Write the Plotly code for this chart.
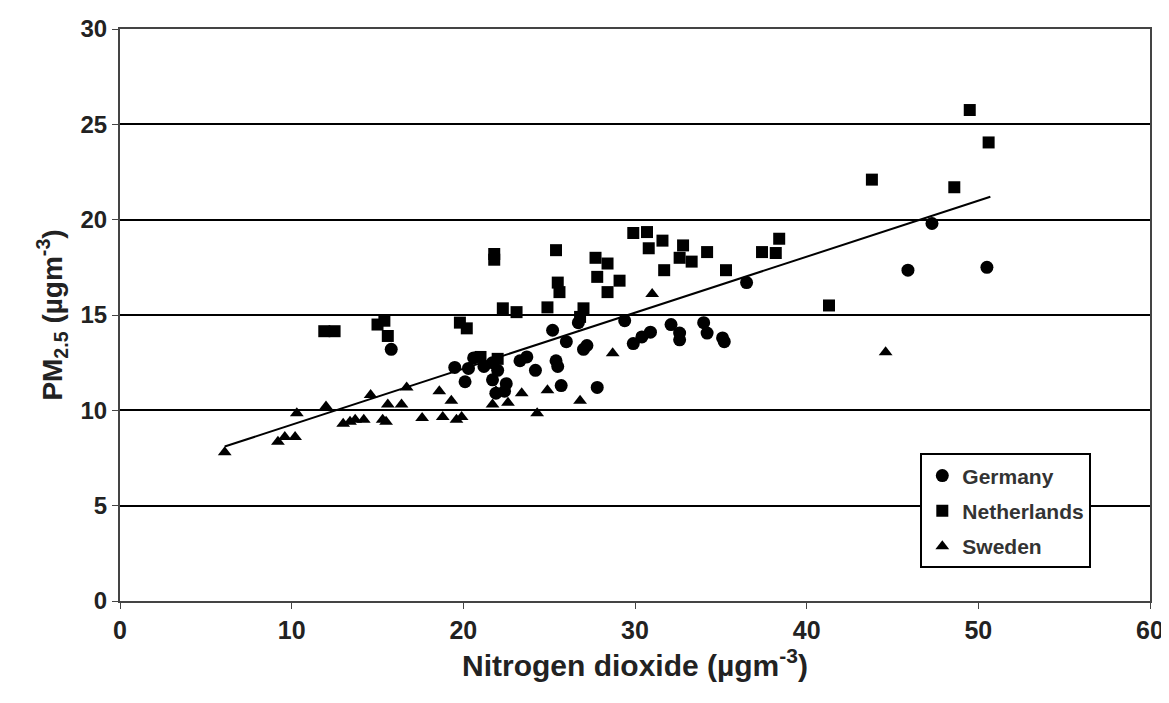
import plotly.graph_objects as go

# Germany (circles)
germany_x = [15.8, 19.5, 20.1, 20.6, 21.7, 22.0, 21.7, 21.9, 22.4, 22.5, 23.3, 23.7, 24.2, 25.2, 26.0,
             25.4, 25.5, 25.7, 27.0, 27.2, 27.8, 26.7, 29.4, 29.9, 30.4, 30.9, 32.1, 32.6, 32.6, 34.0,
             34.2, 35.1, 35.2, 36.5, 47.3, 45.9, 50.5, 20.3, 21.2]
germany_y = [13.2, 12.25, 11.5, 12.75, 12.5, 12.1, 11.6, 10.9, 11.0, 11.4, 12.6, 12.8, 12.1, 14.2, 13.6,
             12.6, 12.3, 11.3, 13.2, 13.4, 11.2, 14.6, 14.7, 13.5, 13.85, 14.1, 14.5, 14.05, 13.7, 14.6,
             14.05, 13.8, 13.6, 16.7, 19.8, 17.35, 17.5, 12.2, 12.3]

# Netherlands (squares)
nl_x = [11.9, 12.5, 15.0, 15.4, 15.6, 19.8, 20.2, 21.8, 21.8, 25.4, 25.5, 25.6, 24.9, 22.3, 23.1,
        27.7, 28.4, 27.8, 28.4, 29.1, 27.0, 29.9, 30.7, 31.6, 30.8, 32.8, 32.6, 33.3, 34.2, 31.7,
        35.3, 37.4, 38.4, 38.2, 43.8, 48.6, 49.5, 50.6, 41.3, 26.8, 21.0, 22.0]
nl_y = [14.15, 14.15, 14.5, 14.7, 13.9, 14.6, 14.3, 17.9, 18.2, 18.4, 16.7, 16.2, 15.4, 15.35, 15.15,
        18.0, 17.7, 17.0, 16.2, 16.8, 15.35, 19.3, 19.35, 18.9, 18.5, 18.65, 18.0, 17.8, 18.3, 17.35,
        17.35, 18.3, 19.0, 18.25, 22.1, 21.7, 25.75, 24.05, 15.5, 14.9, 12.8, 12.7]

# Sweden (triangles)
se_x = [6.1, 9.2, 9.6, 10.2, 10.3, 12.0, 13.0, 13.4, 13.7, 14.2, 14.6, 15.3, 15.5, 15.6, 16.4, 16.7,
        17.6, 18.6, 18.8, 19.3, 19.6, 19.9, 21.7, 21.9, 22.6, 23.4, 24.3, 24.9, 26.8, 28.7, 31.0, 44.6]
se_y = [7.8, 8.35, 8.6, 8.6, 9.85, 10.2, 9.3, 9.4, 9.5, 9.5, 10.8, 9.5, 9.4, 10.3, 10.3, 11.2,
        9.6, 11.0, 9.65, 10.5, 9.5, 9.65, 10.3, 11.0, 10.4, 10.9, 9.85, 11.05, 10.5, 13.0, 16.1, 13.05]

# Trend line end points
trend_x = [6.1, 50.7]
trend_y = [8.1, 21.2]

x_ticks = [0, 10, 20, 30, 40, 50, 60]
y_ticks = [0, 5, 10, 15, 20, 25, 30]

fig = go.Figure()
fig.add_trace(go.Scatter(x=germany_x, y=germany_y, mode="markers", name="Germany", legendgroup="g",
                         marker=dict(symbol="circle", size=13, color="black")))
fig.add_trace(go.Scatter(x=nl_x, y=nl_y, mode="markers", name="Netherlands", legendgroup="n",
                         marker=dict(symbol="square", size=12, color="black")))
fig.add_trace(go.Scatter(x=se_x, y=se_y, mode="markers", name="Sweden", legendgroup="s",
                         marker=dict(symbol="triangle-up", size=12, color="black")))
fig.add_trace(go.Scatter(x=trend_x, y=trend_y, mode="lines", showlegend=False,
                         line=dict(color="black", width=2)))

font_fam = "Liberation Sans, Arial, sans-serif"
fig.update_layout(
    width=1161, height=695,
    margin=dict(l=112, r=19, t=21, b=102),
    paper_bgcolor="white", plot_bgcolor="white",
    font=dict(family=font_fam, color="#222"),
    legend=dict(x=0.777, y=0.258, xanchor="left", yanchor="top",
                bordercolor="black", borderwidth=2, bgcolor="white",
                font=dict(size=21, color="#333", weight="bold"), itemwidth=30,
                traceorder="grouped", tracegroupgap=5),
    xaxis=dict(range=[0, 60], tickvals=x_ticks, ticks="outside", ticklen=6,
               tickcolor="#444", showgrid=False, zeroline=False, automargin=False,
               showline=True, linecolor="#444", linewidth=2, mirror=True,
               tickfont=dict(size=25, color="#222", weight="bold"),
               title=dict(text="Nitrogen dioxide (µgm<sup>-3</sup>)",
                          font=dict(size=30, color="#222", weight="bold"), standoff=12)),
    yaxis=dict(range=[0, 30], tickvals=y_ticks, ticks="outside", ticklen=6,
               tickcolor="#444", showgrid=True, gridcolor="black", gridwidth=2,
               zeroline=False, automargin=False,
               showline=True, linecolor="#444", linewidth=2, mirror=True,
               tickfont=dict(size=24, color="#222", weight="bold"),
               title=dict(text="PM<sub>2.5</sub> (µgm<sup>-3</sup>)",
                          font=dict(size=28, color="#222", weight="bold"), standoff=10)),
)

fig.write_html("out.html")
